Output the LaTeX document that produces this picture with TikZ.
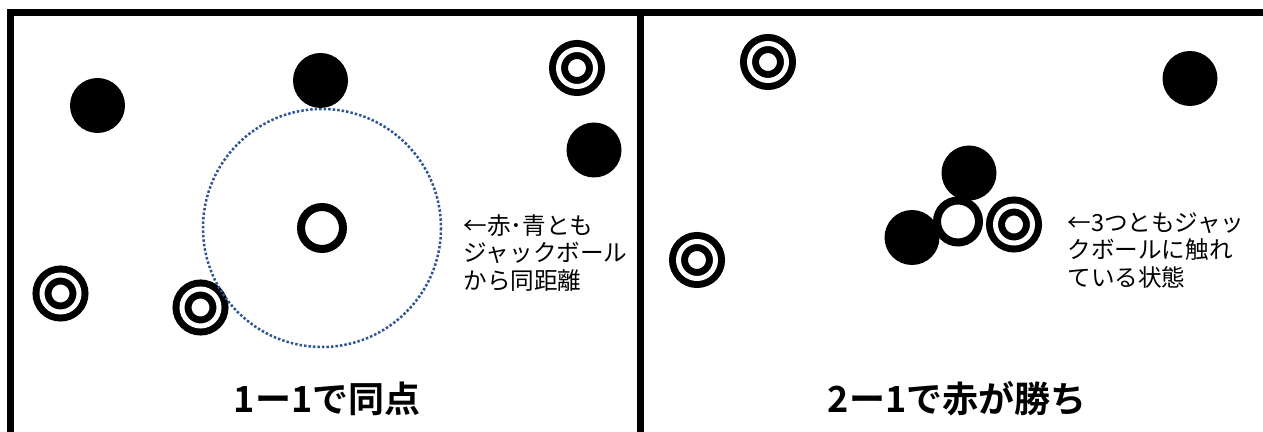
\documentclass[tikz,border=0pt]{standalone}
\usepackage{fontspec}
\newfontfamily\jpfont{Noto Sans CJK JP}[BoldFont={Noto Sans CJK JP Bold}]
\definecolor{distblue}{HTML}{2F5597}

\tikzset{
  redball/.style={circle, fill=black, inner sep=0pt, minimum size=27.5pt},
  blueball/.style={circle, draw=black, line width=3.5pt, double=white, double distance=2.5pt, fill=white, inner sep=0pt, minimum size=18.5pt},
  jack/.style={circle, draw=black, line width=4pt, fill=white, inner sep=0pt, minimum size=21pt},
  note/.style={anchor=north west, align=left, inner sep=0pt, font=\jpfont\fontsize{11.8pt}{13.8pt}\selectfont},
  score/.style={inner sep=0pt, font=\jpfont\bfseries\fontsize{18pt}{20pt}\selectfont},
  frame/.style={line width=3.75pt},
  samedist/.style={draw=distblue, line width=1.25pt, dash pattern=on 1.25pt off 1pt}
}

\begin{document}
\begin{tikzpicture}[x=0.5pt, y=-0.5pt]
                \useasboundingbox (0,0) rectangle (1263,432);
                \draw[frame] (10.5,440) -- (10.5,12.5) -- (1275,12.5);
                \draw[frame] (640.5,12.5) -- (640.5,440);
                % left court
                \node[redball] (r1) at (97.5,105.5) {};
                \node[redball] (r2) at (320.5,80.5) {};
                \node[redball] (r3) at (594,150) {};
                \node[blueball] (b1) at (577,68) {};
                \node[blueball] (b2) at (60.5,293.5) {};
                \node[blueball] (b3) at (200.5,307.5) {};
                \node[jack] (j1) at (322,228) {};
                \draw[samedist] (j1.center) circle[radius=119];
                \node[note] (n1) at (463,214) {←赤･青とも\\ジャックボール\\から同距離};
                \node[score] (s1) at (327,399) {1ー1で同点};
                % right court
                \node[redball] (r4) at (1190,78.5) {};
                \node[redball] (r5) at (969,173) {};
                \node[redball] (r6) at (912,237.5) {};
                \node[blueball] (b4) at (768,62) {};
                \node[blueball] (b5) at (697,260) {};
                \node[blueball] (b6) at (1014,224.5) {};
                \node[jack] (j2) at (958,221.5) {};
                \node[note] (n2) at (1067,212) {←3つともジャッ\\クボールに触れ\\ている状態};
                \node[score] (s2) at (957,399) {2ー1で赤が勝ち};
            \end{tikzpicture}
\end{document}
